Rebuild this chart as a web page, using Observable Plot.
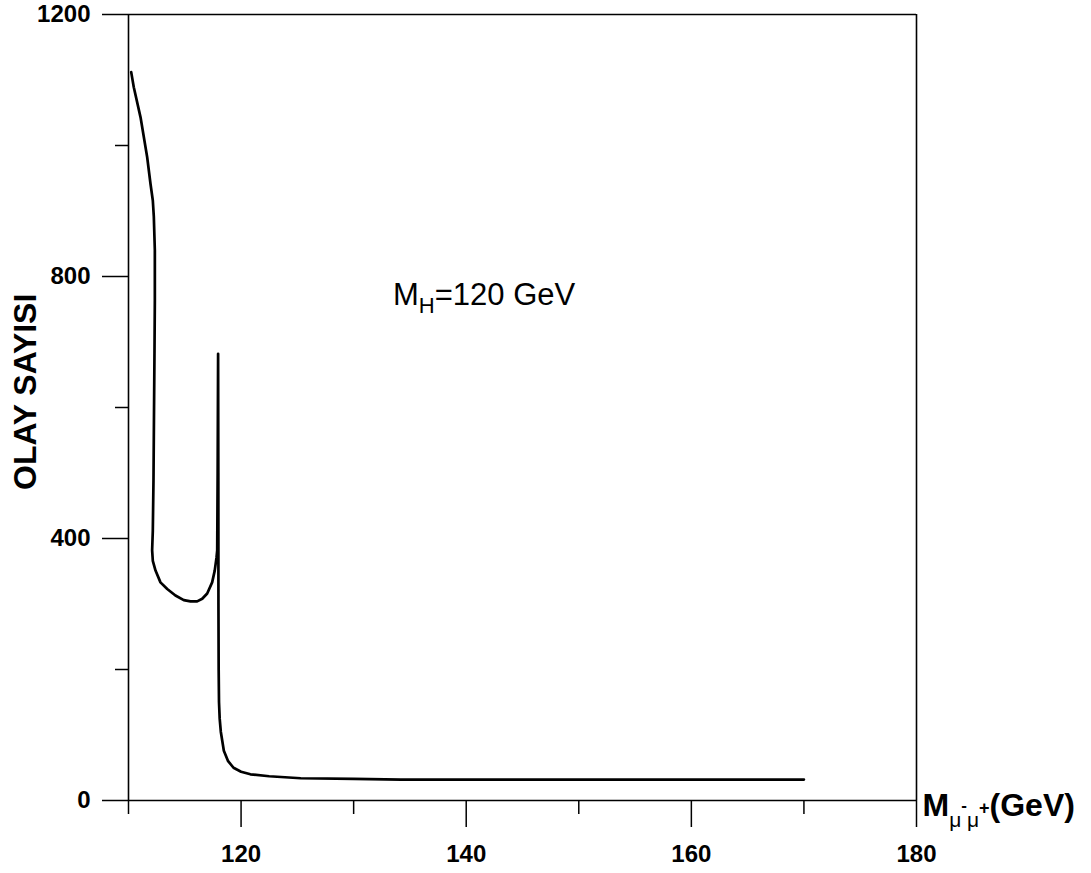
<!DOCTYPE html>
<html><head><meta charset="utf-8">
<script src="https://cdn.jsdelivr.net/npm/d3@7"></script>
<script src="https://cdn.jsdelivr.net/npm/@observablehq/plot@0.6"></script>
<style>
html,body{margin:0;padding:0;background:#fff;}
#chart svg{display:block;}
</style></head><body><div id="chart"></div>
<script>
// Invariant mass of the muon pair (GeV) and number of events
const massGeV = [
  110.24, 110.47, 111.07, 111.66, 111.95, 112.16, 112.25, 112.34, 112.34,
  112.31, 112.26, 112.22, 112.16, 112.10, 112.16, 112.40, 112.84, 113.44,
  114.17, 114.91, 115.51, 116.10, 116.55, 116.99, 117.43, 117.66, 117.82,
  117.88, 117.92, 117.96, 117.98, 117.99, 118.01, 118.04, 118.10, 118.20,
  118.47, 118.85, 119.33, 120.00, 120.83, 122.50, 125.30, 130.00, 134.20,
  140.00, 150.00, 160.00, 170.00
];
const eventCount = [
  1112, 1089, 1043, 982, 942, 916, 891, 840, 763,
  687, 580, 489, 412, 382, 366, 351, 333, 323,
  313, 306, 304, 304, 308, 316, 333, 351, 371,
  382, 500, 682, 500, 300, 200, 150, 125, 105,
  76, 60, 50, 44, 40, 37, 34, 33, 32,
  32, 32, 32, 32
];
const xMajorTicks = [120, 140, 160, 180];
const xMinorTicks = [110, 130, 150, 170];
const yMajorTicks = [0, 400, 800, 1200];
const yMinorTicks = [200, 600, 1000];
const yTitle = "OLAY SAYISI";
const noteParts = ["M", "H", "=120 GeV"];
const xTitleParts = ["M", "μ", "-", "μ", "+", "(GeV)"];

const curve = massGeV.map((m, i) => ({m, n: eventCount[i]}));
const noteText = noteParts.join("|");
const xTitleText = xTitleParts.join("|");

const chart = Plot.plot({
  width: 1091,
  height: 873,
  marginLeft: 128,
  marginRight: 175,
  marginTop: 14,
  marginBottom: 73,
  x: {domain: [110, 180]},
  y: {domain: [0, 1200]},
  style: {fontFamily: "'Liberation Sans', Arial, sans-serif", color: "#000", background: "#fff"},
  marks: [
    Plot.ruleY([0], {stroke: "#000", strokeWidth: 1.6}),
    Plot.ruleX([110], {stroke: "#000", strokeWidth: 1.6}),
    Plot.ruleY([1200], {stroke: "#000", strokeWidth: 1.6}),
    Plot.ruleX([180], {stroke: "#000", strokeWidth: 1.6}),
    Plot.axisX({ticks: xMajorTicks, tickSize: 27, tickPadding: 17, tickFormat: d3.format("d"), fontSize: 24, fontWeight: "bold", label: null, strokeWidth: 1.5}),
    Plot.axisX({ticks: xMinorTicks, tickSize: 14, tickFormat: () => "", label: null, strokeWidth: 1.5}),
    Plot.axisY({ticks: yMajorTicks, tickSize: 26, tickPadding: 12, tickFormat: d3.format("d"), fontSize: 24, fontWeight: "bold", label: null, strokeWidth: 1.5}),
    Plot.axisY({ticks: yMinorTicks, tickSize: 13, tickFormat: () => "", label: null, strokeWidth: 1.5}),
    Plot.line(curve, {x: "m", y: "n", stroke: "#000", strokeWidth: 2.7, strokeLinejoin: "round"}),
    Plot.text([yTitle], {x: () => 100.9, y: () => 624, rotate: -90, fontSize: 32, fontWeight: "bold", fill: "#000"}),
    Plot.text([noteText], {x: () => 133.5, y: () => 756, textAnchor: "start", fontSize: 31, fill: "#000"}),
    Plot.text([xTitleText], {x: () => 180, y: () => 0, dx: 6, textAnchor: "start", fontSize: 31, fontWeight: "bold", fill: "#000"})
  ]
});

const svg = d3.select(chart);
svg.selectAll("text").filter(function() { return this.textContent === noteText; }).each(function() {
  const t = d3.select(this);
  t.attr("dy", null).text("");
  t.append("tspan").attr("y", 0).attr("font-size", 31).text(noteParts[0]);
  t.append("tspan").attr("y", 8).attr("font-size", 22).text(noteParts[1]);
  t.append("tspan").attr("y", 0).attr("font-size", 31).text(noteParts[2]);
});
svg.selectAll("text").filter(function() { return this.textContent === xTitleText; }).each(function() {
  const t = d3.select(this);
  t.attr("dy", null).text("");
  t.append("tspan").attr("y", 15).attr("font-size", 32).text(xTitleParts[0]);
  t.append("tspan").attr("y", 26).attr("font-size", 21).attr("font-weight", "normal").text(xTitleParts[1]);
  t.append("tspan").attr("y", 10).attr("font-size", 17).text(xTitleParts[2]);
  t.append("tspan").attr("y", 26).attr("font-size", 21).attr("font-weight", "normal").text(xTitleParts[3]);
  t.append("tspan").attr("y", 13).attr("font-size", 18).text(xTitleParts[4]);
  t.append("tspan").attr("y", 15).attr("font-size", 32).text(xTitleParts[5]);
});

document.getElementById("chart").appendChild(chart);
</script>
</body></html>
